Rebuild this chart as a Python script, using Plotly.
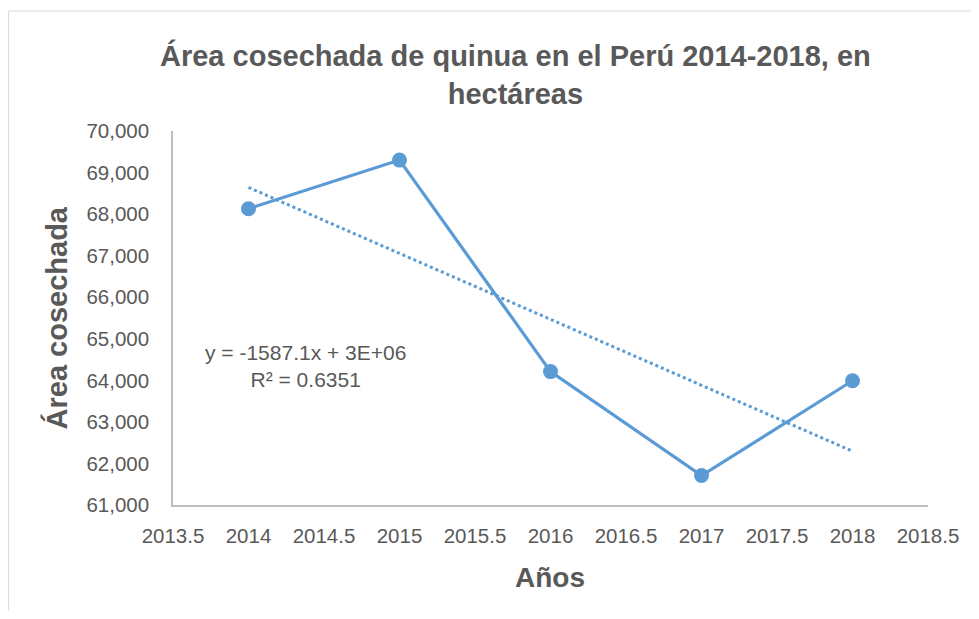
import numpy as np
import plotly.graph_objects as go

years = [2014, 2015, 2016, 2017, 2018]
area = [68130, 69300, 64210, 61710, 63990]
x_tick_vals = [2013.5, 2014, 2014.5, 2015, 2015.5, 2016, 2016.5, 2017, 2017.5, 2018, 2018.5]
x_tick_text = ["2013.5", "2014", "2014.5", "2015", "2015.5", "2016", "2016.5", "2017", "2017.5", "2018", "2018.5"]
y_tick_vals = [61000, 62000, 63000, 64000, 65000, 66000, 67000, 68000, 69000, 70000]

slope, intercept = np.polyfit(years, area, 1)
trend = [slope * x + intercept for x in years]

BLUE = "#5b9bd5"
GREY = "#595959"
FONT = "Liberation Sans, Arial, sans-serif"

OFF = 8  # page body margin
W, H = 979 - 2 * OFF, 619 - 2 * OFF
# target page-pixel plot area
PL, PR, PT, PB = 173, 931, 131, 505
L, T = PL - OFF, PT - OFF
R = W - (PR - OFF)
B = H - (PB - OFF)
pw, ph = W - L - R, H - T - B

def px(x):
    return (x - OFF - L) / pw

def py(y):
    return (H - B - (y - OFF)) / ph

fig = go.Figure()
fig.add_trace(go.Scatter(x=years, y=trend, mode="lines",
                         line=dict(color=BLUE, width=3, dash="dot"),
                         showlegend=False, hoverinfo="skip"))
fig.add_trace(go.Scatter(x=years, y=area, mode="lines+markers",
                         line=dict(color=BLUE, width=3.2),
                         marker=dict(color=BLUE, size=15),
                         showlegend=False))

fig.update_layout(
    width=W, height=H,
    margin=dict(l=L, r=R, t=T, b=B),
    paper_bgcolor="white", plot_bgcolor="white",
    font=dict(family=FONT, color=GREY, size=20),
    xaxis=dict(range=[2013.5, 2018.5], tickvals=x_tick_vals, ticktext=x_tick_text,
               showgrid=False, zeroline=False, showline=True, linecolor="#bfbfbf",
               linewidth=1.5, ticks="outside", ticklen=12, tickcolor="rgba(0,0,0,0)",
               tickfont=dict(size=20.5, color=GREY)),
    yaxis=dict(range=[61000, 70000], tickvals=y_tick_vals, tickformat=",d",
               showgrid=False, zeroline=False, showline=True, linecolor="#bfbfbf",
               linewidth=1.5, ticks="outside", ticklen=18, tickcolor="rgba(0,0,0,0)",
               tickfont=dict(size=20.5, color=GREY)),
    shapes=[dict(type="rect", xref="paper", yref="paper",
                 x0=px(8), x1=px(990), y0=py(640), y1=py(11),
                 line=dict(color="#d9d9d9", width=1), fillcolor="rgba(0,0,0,0)", layer="below")],
    annotations=[
        dict(text="<b>Área cosechada de quinua en el Perú 2014-2018, en<br>hectáreas</b>",
             xref="paper", yref="paper", x=px(517), y=py(74), showarrow=False,
             font=dict(size=29, color=GREY, family=FONT), align="center",
             xanchor="center", yanchor="middle"),
        dict(text="<b>Área cosechada</b>", xref="paper", yref="paper",
             x=px(56), y=py(318), textangle=-90, showarrow=False,
             font=dict(size=29, color=GREY, family=FONT), xanchor="center", yanchor="middle"),
        dict(text="<b>Años</b>", xref="paper", yref="paper",
             x=px(551), y=py(577), showarrow=False,
             font=dict(size=28, color=GREY, family=FONT), xanchor="center", yanchor="middle"),
        dict(text="y = -1587.1x + 3E+06<br>R² = 0.6351", xref="paper", yref="paper",
             x=px(306), y=py(366), showarrow=False, align="center",
             font=dict(size=21, color=GREY, family=FONT), xanchor="center", yanchor="middle"),
    ],
)

fig.write_html("out.html")
